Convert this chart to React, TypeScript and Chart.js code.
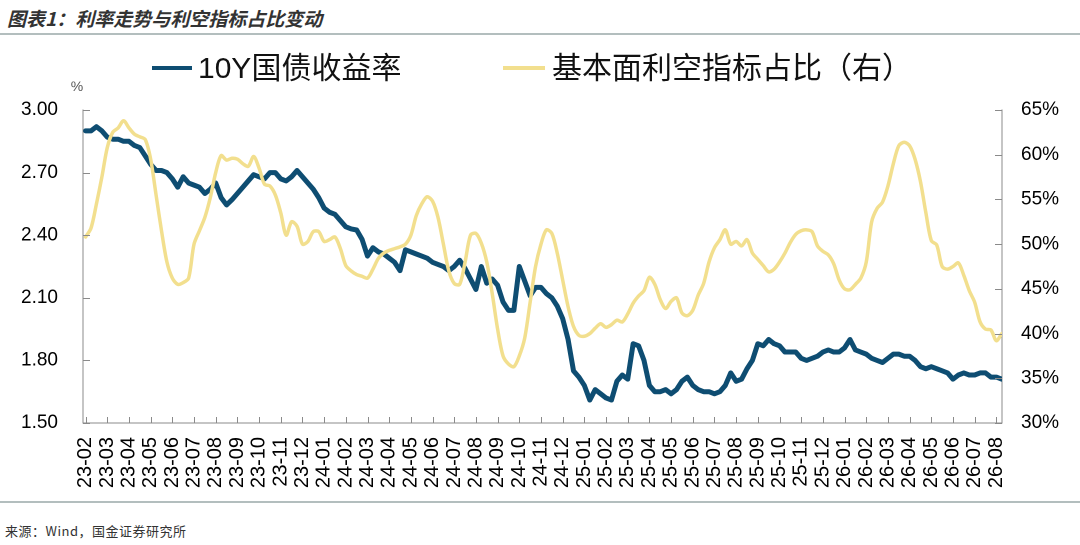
import React, { useEffect, useRef } from "react";
import { Chart, registerables } from "chart.js";

Chart.register(...registerables);

// Month tick labels (YY-MM)
const months = [
  "23-02", "23-03", "23-04", "23-05", "23-06", "23-07", "23-08", "23-09", "23-10", "23-11", "23-12",
  "24-01", "24-02", "24-03", "24-04", "24-05", "24-06", "24-07", "24-08", "24-09", "24-10", "24-11", "24-12",
  "25-01", "25-02", "25-03", "25-04", "25-05", "25-06", "25-07", "25-08", "25-09", "25-10", "25-11", "25-12",
  "26-01", "26-02", "26-03", "26-04", "26-05", "26-06", "26-07", "26-08",
];

// Samples are weekly: 4 per month, starting at the first month label
const SAMPLES_PER_MONTH = 4;

// 10Y government bond yield (%), left axis
const yield10Y = [
  2.90, 2.90, 2.92, 2.90,
  2.87, 2.86, 2.86, 2.85,
  2.85, 2.83, 2.82, 2.78,
  2.74, 2.71, 2.71, 2.70,
  2.67, 2.63, 2.68, 2.65,
  2.64, 2.63, 2.60, 2.62,
  2.65, 2.58, 2.545, 2.57,
  2.60, 2.63, 2.66, 2.69,
  2.68, 2.67, 2.70, 2.70,
  2.67, 2.66, 2.68, 2.71,
  2.68, 2.65, 2.62, 2.58,
  2.53, 2.51, 2.50, 2.47,
  2.44, 2.43, 2.425, 2.38,
  2.30, 2.34, 2.32, 2.31,
  2.29, 2.27, 2.23, 2.33,
  2.32, 2.31, 2.30, 2.29,
  2.27, 2.26, 2.25, 2.23,
  2.25, 2.28, 2.24, 2.19,
  2.14, 2.25, 2.17, 2.19,
  2.16, 2.08, 2.04, 2.04,
  2.25, 2.18, 2.11, 2.15,
  2.15, 2.12, 2.10, 2.06,
  2.00, 1.90, 1.75, 1.72,
  1.68, 1.61, 1.66, 1.64,
  1.62, 1.61, 1.70, 1.73,
  1.71, 1.88, 1.87, 1.80,
  1.68, 1.65, 1.65, 1.66,
  1.64, 1.66, 1.70, 1.72,
  1.68, 1.66, 1.65, 1.65,
  1.64, 1.65, 1.68, 1.74,
  1.70, 1.71, 1.76, 1.80,
  1.88, 1.87, 1.90, 1.88,
  1.87, 1.84, 1.84, 1.84,
  1.81, 1.80, 1.81, 1.82,
  1.84, 1.85, 1.84, 1.84,
  1.86, 1.90, 1.85, 1.84,
  1.83, 1.81, 1.80, 1.79,
  1.81, 1.83, 1.83, 1.82,
  1.82, 1.80, 1.77, 1.76,
  1.77, 1.76, 1.75, 1.74,
  1.71, 1.73, 1.74, 1.73,
  1.73, 1.74, 1.74, 1.72,
  1.72, 1.71,
];

// Share of bearish fundamental indicators (%), right axis
const bearishShare = [
  50.8, 51.8, 54.5, 57.5,
  60.8, 62.5, 63.0, 63.8,
  63.0, 62.3, 62.0, 61.7,
  59.5, 55.5, 51.5, 48.0,
  46.2, 45.5, 45.7, 46.2,
  50.0, 51.5, 53.0, 55.2,
  58.0, 59.9, 59.4, 59.6,
  59.5, 59.0, 58.7, 59.8,
  58.5, 56.7, 56.5, 55.5,
  53.5, 51.0, 52.5, 52.0,
  50.0, 50.3, 51.4, 51.4,
  50.3, 50.5, 50.8, 49.5,
  47.6, 47.0, 46.6, 46.4,
  46.2, 47.2, 48.4, 49.0,
  49.3, 49.5, 49.7, 50.0,
  51.0, 53.2, 54.5, 55.3,
  54.8, 53.0, 50.0, 47.0,
  45.6, 45.5, 48.0, 51.0,
  51.2, 50.1, 48.0, 44.5,
  40.5, 37.5, 36.6, 36.3,
  37.5, 39.5, 43.5, 47.5,
  50.0, 51.6, 51.2, 49.0,
  46.0, 43.0, 40.8, 39.8,
  39.7, 40.0, 40.6, 41.1,
  40.7, 41.0, 41.5, 41.3,
  42.2, 43.4, 44.2, 44.8,
  46.3, 45.5, 43.8, 42.8,
  43.6, 44.0, 42.3, 42.0,
  42.6, 44.3, 45.6, 48.0,
  49.6, 50.5, 51.6, 50.0,
  50.3, 49.8, 50.5, 49.0,
  48.3, 47.6, 46.9, 47.2,
  48.0, 49.0, 50.2, 51.1,
  51.5, 51.6, 51.4, 49.8,
  49.2, 48.8, 47.8, 46.0,
  45.0, 44.9, 45.5, 46.2,
  48.0, 52.5, 54.0, 54.7,
  56.5, 59.0, 61.0, 61.4,
  61.0, 59.5, 57.0, 53.5,
  50.4, 49.9, 47.5, 47.2,
  47.5, 47.9, 46.5, 44.8,
  43.5, 41.3, 40.5, 40.4,
  39.2, 40.0,
];

const leftTicks = [1.5, 1.8, 2.1, 2.4, 2.7, 3.0];
const rightTicks = [30, 35, 40, 45, 50, 55, 60, 65];

const seriesNames = ["10Y国债收益率", "基本面利空指标占比（右）"];
const BLUE = "#0e4d72";
const YELLOW = "#f2df8e";
const AXIS = "#8a8a8a";

const innerTicks = {
  id: "innerTicks",
  afterDraw(chart: any) {
    const { ctx, chartArea, scales } = chart;
    ctx.save();
    ctx.strokeStyle = AXIS;
    ctx.lineWidth = 1;
    ctx.beginPath();
    scales.x.ticks.forEach((t: any) => {
      const px = Math.round(scales.x.getPixelForValue(t.value)) + 0.5;
      ctx.moveTo(px, chartArea.bottom);
      ctx.lineTo(px, chartArea.bottom - 6);
    });
    scales.y.ticks.forEach((t: any) => {
      const py = Math.round(scales.y.getPixelForValue(t.value)) + 0.5;
      ctx.moveTo(chartArea.left, py);
      ctx.lineTo(chartArea.left + 7, py);
    });
    scales.y1.ticks.forEach((t: any) => {
      const py = Math.round(scales.y1.getPixelForValue(t.value)) + 0.5;
      ctx.moveTo(chartArea.right, py);
      ctx.lineTo(chartArea.right - 7, py);
    });
    ctx.stroke();
    ctx.fillStyle = "#555";
    ctx.font = '14px "Liberation Sans", Arial, sans-serif';
    ctx.textAlign = "center";
    ctx.textBaseline = "middle";
    ctx.fillText("%", chartArea.left - 6, chartArea.top - 23);
    ctx.restore();
  },
};

function ChartCanvas() {
  const ref = useRef<HTMLCanvasElement | null>(null);
  useEffect(() => {
    if (!ref.current) return;
    const toPoints = (arr: number[]) =>
      arr.map((v, i) => ({ x: i / SAMPLES_PER_MONTH, y: v }));
    const font = { family: '"Liberation Sans", Arial, sans-serif', size: 19 };
    const xFont = { family: '"Liberation Sans", Arial, sans-serif', size: 20 };
    const chart = new Chart(ref.current, {
      type: "line",
      data: {
        datasets: [
          {
            label: seriesNames[0],
            data: toPoints(yield10Y),
            borderColor: BLUE,
            backgroundColor: BLUE,
            borderWidth: 5,
            pointRadius: 0,
            tension: 0,
            yAxisID: "y",
            order: 2,
            borderJoinStyle: "round",
            borderCapStyle: "round",
          },
          {
            label: seriesNames[1],
            data: toPoints(bearishShare),
            borderColor: YELLOW,
            backgroundColor: YELLOW,
            borderWidth: 3.5,
            pointRadius: 0,
            tension: 0.3,
            yAxisID: "y1",
            order: 1,
            borderJoinStyle: "round",
            borderCapStyle: "round",
          },
        ],
      },
      options: {
        animation: false,
        responsive: false,
        devicePixelRatio: 2,
        layout: { padding: { top: 74, left: 0, right: 0, bottom: 0 } },
        plugins: { legend: { display: false }, tooltip: { enabled: false } },
        scales: {
          x: {
            type: "linear",
            min: -0.12,
            max: 42.26,
            grid: { display: false, drawTicks: false },
            border: { display: true, color: AXIS, width: 1 },
            afterBuildTicks: (s: any) => {
              s.ticks = months.map((_, i) => ({ value: i }));
            },
            afterFit: (s: any) => {
              s.height = 77;
            },
            ticks: {
              autoSkip: false,
              minRotation: 90,
              maxRotation: 90,
              padding: 14,
              color: "#000",
              font: xFont,
              callback: (v: any) => months[Math.round(Number(v))],
            },
          },
          y: {
            type: "linear",
            position: "left",
            min: 1.5,
            max: 3.0,
            grid: { display: false, drawTicks: false },
            border: { display: true, color: AXIS, width: 1 },
            afterBuildTicks: (s: any) => {
              s.ticks = leftTicks.map((v) => ({ value: v }));
            },
            afterFit: (s: any) => {
              s.width = 83;
            },
            ticks: {
              padding: 25,
              color: "#000",
              font,
              callback: (v: any) => Number(v).toFixed(2),
            },
          },
          y1: {
            type: "linear",
            position: "right",
            min: 30,
            max: 65,
            grid: { display: false, drawTicks: false },
            border: { display: true, color: AXIS, width: 1 },
            afterBuildTicks: (s: any) => {
              s.ticks = rightTicks.map((v) => ({ value: v }));
            },
            afterFit: (s: any) => {
              s.width = 78;
            },
            ticks: {
              padding: 19,
              color: "#000",
              font,
              callback: (v: any) => `${v}%`,
            },
          },
        },
      },
      plugins: [innerTicks],
    } as any);
    return () => chart.destroy();
  }, []);
  return (
    <canvas
      ref={ref}
      width={1080}
      height={464}
      style={{ position: "absolute", left: 0, top: 36, width: 1080, height: 464 }}
    />
  );
}

export default function App() {
  useEffect(() => {
    document.body.style.margin = "0";
  }, []);
  const legendFont = '"Liberation Sans", "Noto Sans CJK SC", sans-serif';
  return (
    <div
      style={{
        position: "relative",
        width: 1080,
        height: 545,
        background: "#fff",
        overflow: "hidden",
      }}
    >
      <div
        style={{
          position: "absolute",
          left: 7,
          top: 5,
          fontFamily: '"Noto Sans CJK SC", sans-serif',
          fontStyle: "italic",
          fontWeight: 700,
          fontSize: 19,
          lineHeight: "26px",
          color: "#333",
          whiteSpace: "nowrap",
        }}
      >
        图表1：利率走势与利空指标占比变动
      </div>
      <div style={{ position: "absolute", left: 0, top: 33, width: 1080, height: 2, background: "#b3bebe" }} />
      <ChartCanvas />
      <div style={{ position: "absolute", left: 152, top: 66, width: 40, height: 4, background: BLUE }} />
      <div
        style={{
          position: "absolute",
          left: 198,
          top: 49,
          fontFamily: legendFont,
          fontSize: 30,
          lineHeight: "38px",
          color: "#111",
          whiteSpace: "nowrap",
        }}
      >
        {seriesNames[0]}
      </div>
      <div style={{ position: "absolute", left: 503, top: 66, width: 42, height: 4, background: YELLOW }} />
      <div
        style={{
          position: "absolute",
          left: 552,
          top: 49,
          fontFamily: legendFont,
          fontSize: 30,
          lineHeight: "38px",
          color: "#111",
          whiteSpace: "nowrap",
        }}
      >
        {seriesNames[1]}
      </div>
      <div style={{ position: "absolute", left: 0, top: 501, width: 1080, height: 1.5, background: "#b3bebe" }} />
      <div
        style={{
          position: "absolute",
          left: 5,
          top: 521,
          fontFamily: '"Noto Sans CJK SC", sans-serif',
          fontSize: 13,
          lineHeight: "20px",
          color: "#333",
          letterSpacing: 0.5,
          whiteSpace: "nowrap",
        }}
      >
        来源：Wind，国金证券研究所
      </div>
    </div>
  );
}
